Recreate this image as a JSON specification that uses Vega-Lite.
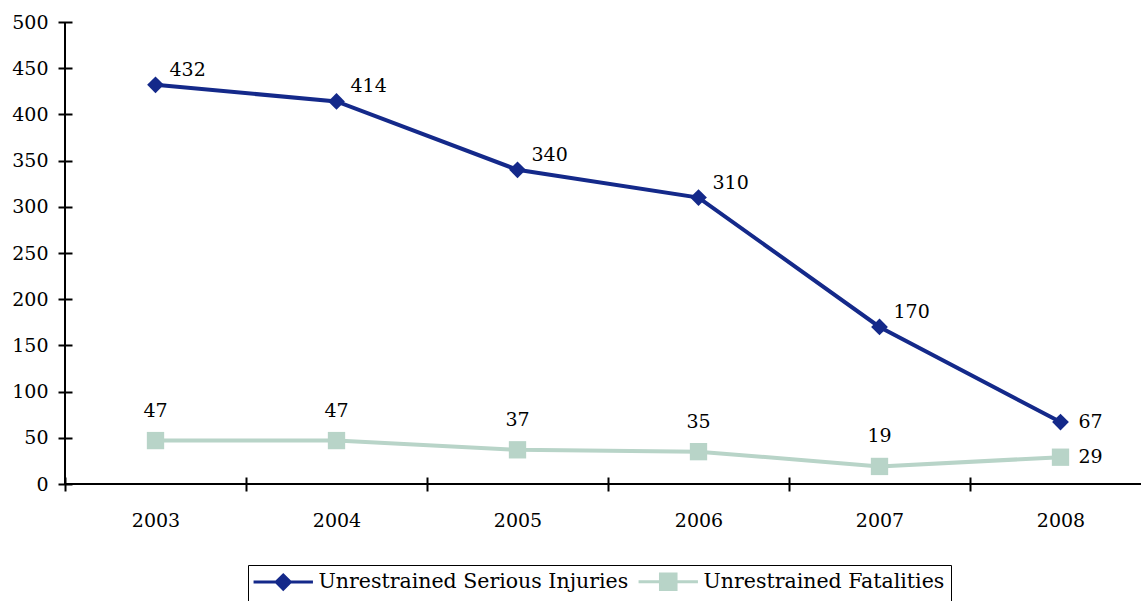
{
  "$schema": "https://vega.github.io/schema/vega-lite/v6.json",
  "width": 1076,
  "height": 462,
  "autosize": {"type": "none"},
  "padding": {"left": 65, "top": 22, "right": 0, "bottom": 117},
  "background": "white",
  "config": {
    "view": {"stroke": null},
    "font": "DejaVu Serif",
    "axis": {
      "labelFont": "DejaVu Serif",
      "labelFontSize": 19,
      "labelColor": "black",
      "domain": false,
      "tickColor": "black",
      "tickWidth": 2,
      "tickSize": 14,
      "offset": -7,
      "grid": false,
      "title": null
    }
  },
  "data": {
    "values": [
      {"year": "2003", "series": "Unrestrained Serious Injuries", "value": 432},
      {"year": "2004", "series": "Unrestrained Serious Injuries", "value": 414},
      {"year": "2005", "series": "Unrestrained Serious Injuries", "value": 340},
      {"year": "2006", "series": "Unrestrained Serious Injuries", "value": 310},
      {"year": "2007", "series": "Unrestrained Serious Injuries", "value": 170},
      {"year": "2008", "series": "Unrestrained Serious Injuries", "value": 67},
      {"year": "2003", "series": "Unrestrained Fatalities", "value": 47},
      {"year": "2004", "series": "Unrestrained Fatalities", "value": 47},
      {"year": "2005", "series": "Unrestrained Fatalities", "value": 37},
      {"year": "2006", "series": "Unrestrained Fatalities", "value": 35},
      {"year": "2007", "series": "Unrestrained Fatalities", "value": 19},
      {"year": "2008", "series": "Unrestrained Fatalities", "value": 29}
    ]
  },
  "layer": [
    {
      "encoding": {
        "x": {
          "field": "year",
          "type": "ordinal",
          "bandPosition": 0.5,
          "scale": {"type": "band", "range": [0, 1086], "paddingInner": 0, "paddingOuter": 0},
          "axis": {"labelAngle": 0, "labelAlign": "center", "labelBaseline": "top", "tickBand": "extent", "labelPadding": 20}
        },
        "y": {
          "field": "value",
          "type": "quantitative",
          "scale": {"domain": [0, 500], "nice": false},
          "axis": {"values": [0, 50, 100, 150, 200, 250, 300, 350, 400, 450, 500], "labelPadding": 10}
        },
        "color": {
          "field": "series",
          "type": "nominal",
          "scale": {
            "domain": ["Unrestrained Serious Injuries", "Unrestrained Fatalities"],
            "range": ["#14298a", "#b8d4c8"]
          },
          "legend": {
            "title": null,
            "orient": "none",
            "legendX": 183,
            "legendY": 543,
            "direction": "horizontal",
            "strokeColor": "black",
            "fillColor": "white",
            "padding": 6,
            "labelFont": "DejaVu Serif",
            "labelFontSize": 20.5,
            "labelColor": "black",
            "labelLimit": 500,
            "symbolSize": 200,
            "symbolStrokeWidth": 3,
            "symbolOffset": 19,
            "labelOffset": 25,
            "columnPadding": 3,
            "encode": {
              "symbols": {
                "update": {
                  "shape": {"signal": "datum.value == 'Unrestrained Serious Injuries' ? 'M-4.2,0H4.2M0,-1L1,0L0,1L-1,0Z' : 'M-4.2,0H4.2M-1.1,-1.1H1.1V1.1H-1.1Z'"},
                  "fill": {"signal": "scale('color', datum.value)"},
                  "stroke": {"signal": "scale('color', datum.value)"}
                }
              }
            }
          }
        }
      },
      "layer": [
        {"mark": {"type": "line", "strokeWidth": 4}},
        {
          "transform": [{"filter": "datum.series == 'Unrestrained Serious Injuries'"}],
          "mark": {"type": "point", "shape": "diamond", "filled": true, "opacity": 1, "size": 280}
        },
        {
          "transform": [{"filter": "datum.series == 'Unrestrained Fatalities'"}],
          "mark": {"type": "point", "shape": "square", "filled": true, "opacity": 1, "size": 300}
        },
        {
          "transform": [{"filter": "datum.series == 'Unrestrained Serious Injuries' && datum.year != '2008'"}],
          "mark": {"type": "text", "align": "left", "baseline": "middle", "dx": 14, "dy": -15, "fontSize": 19, "font": "DejaVu Serif"},
          "encoding": {"text": {"field": "value"}, "color": {"value": "black"}}
        },
        {
          "transform": [{"filter": "datum.series == 'Unrestrained Fatalities' && datum.year != '2008'"}],
          "mark": {"type": "text", "align": "center", "baseline": "middle", "dy": -30, "fontSize": 19, "font": "DejaVu Serif"},
          "encoding": {"text": {"field": "value"}, "color": {"value": "black"}}
        },
        {
          "transform": [{"filter": "datum.year == '2008'"}],
          "mark": {"type": "text", "align": "left", "baseline": "middle", "dx": 18, "fontSize": 19, "font": "DejaVu Serif"},
          "encoding": {"text": {"field": "value"}, "color": {"value": "black"}}
        }
      ]
    },
    {
      "mark": {"type": "rule", "color": "black", "strokeWidth": 2},
      "encoding": {
        "x": {"datum": "2003", "type": "ordinal", "bandPosition": 0},
        "y": {"datum": 0, "type": "quantitative"},
        "y2": {"datum": 500}
      }
    },
    {
      "mark": {"type": "rule", "color": "black", "strokeWidth": 2},
      "encoding": {"y": {"datum": 0, "type": "quantitative"}}
    }
  ]
}
